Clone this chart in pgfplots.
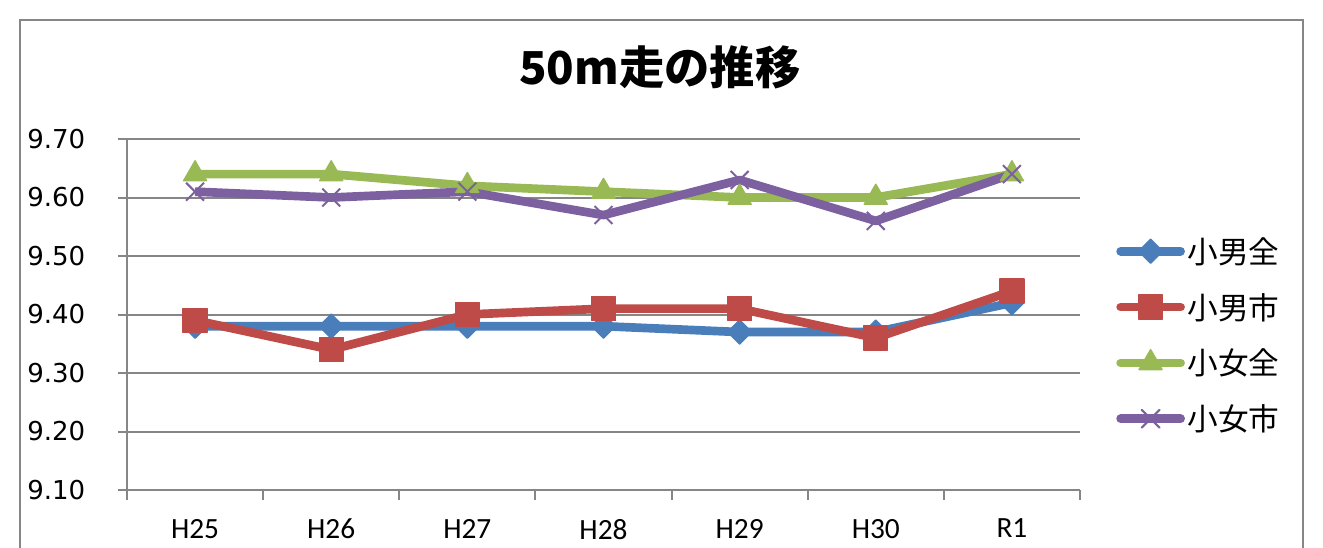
\documentclass[border=0pt]{standalone}
\usepackage{fontspec}
\usepackage{pgfplots}
\pgfplotsset{compat=1.18}
\setmainfont{Carlito}
\newfontfamily\cjk{Noto Sans CJK JP}
\newfontfamily\dvs{DejaVu Sans}
\definecolor{cblue}{HTML}{4A7EBB}
\definecolor{cred}{HTML}{BE4B48}
\definecolor{cgreen}{HTML}{98B954}
\definecolor{cpurple}{HTML}{7D60A0}
\definecolor{gridc}{HTML}{868686}
\begin{document}
\begin{tikzpicture}[x=0.75pt,y=0.75pt]
\path[use as bounding box, clip] (0,0) rectangle (1323,547);
\draw[gridc, line width=1.5pt] (20,-20) -- (20,527) -- (1303,527) -- (1303,-20);
\begin{axis}[
  at={(95.25pt,42.75pt)}, anchor=south west,
  scale only axis, width=714.75pt, height=263.25pt,
  xmin=-0.5, xmax=6.5, ymin=9.1, ymax=9.7,
  clip=false,
  axis x line*=bottom, axis y line*=left,
  axis line style={gridc, line width=1.5pt},
  ymajorgrids, grid style={gridc, line width=1.5pt},
  ytick={9.1,9.2,9.3,9.4,9.5,9.6,9.7},
  /pgf/number format/assume math mode=true,
  yticklabel style={/pgf/number format/.cd, fixed, fixed zerofill, precision=2, /tikz/.cd,
     font=\dvs\fontsize{19.5}{22}\selectfont, xshift=-21pt},
  xtick={0,...,6}, xticklabels={H25,H26,H27,H28,H29,H30,R1},
  xticklabel style={font=\fontsize{22}{26}\selectfont, yshift=-11.5pt},
  minor xtick={-0.5,0.5,...,6.5},
  major x tick style={draw=none},
  minor x tick style={gridc, line width=1.5pt},
  y tick style={gridc, line width=1.5pt},
  tick align=outside, major tick length=6.75pt, minor tick length=7.5pt,
  title={\cjk\bfseries 50m走の推移},
  title style={at={(0.559,1.182)}, anchor=center, font=\fontsize{34}{40}\selectfont},
  legend style={at={(1.0336,0.4416)}, anchor=west, draw=none, fill=none,
     font=\cjk\fontsize{23}{27}\selectfont, row sep=17pt, nodes={inner sep=2pt}},
  legend cell align=left,
  legend image code/.code={\draw[#1, line cap=round, mark repeat=2, mark phase=2] plot coordinates {(0pt,0pt) (22.5pt,0pt) (45pt,0pt)};},
  every axis plot/.append style={line width=6.5pt, line join=round},
]
\addplot[cblue, mark=square*, mark size=6.4pt, mark options={solid, rotate=45, line width=1pt, fill=cblue}]
  coordinates {(0,9.38) (1,9.38) (2,9.38) (3,9.38) (4,9.37) (5,9.37) (6,9.42)};
\addlegendentry{小男全}
\addplot[cred, mark=square*, mark size=9pt, mark options={solid, line width=1pt, fill=cred}]
  coordinates {(0,9.39) (1,9.34) (2,9.40) (3,9.41) (4,9.41) (5,9.36) (6,9.44)};
\addlegendentry{小男市}
\addplot[cgreen, mark=triangle*, mark size=10pt, mark options={solid, line width=1pt, fill=cgreen}]
  coordinates {(0,9.64) (1,9.64) (2,9.62) (3,9.61) (4,9.60) (5,9.60) (6,9.64)};
\addlegendentry{小女全}
\addplot[cpurple, mark=x, mark size=9.5pt, mark options={solid, line width=1.5pt}]
  coordinates {(0,9.61) (1,9.60) (2,9.61) (3,9.57) (4,9.63) (5,9.56) (6,9.64)};
\addlegendentry{小女市}
\end{axis}
\end{tikzpicture}
\end{document}
